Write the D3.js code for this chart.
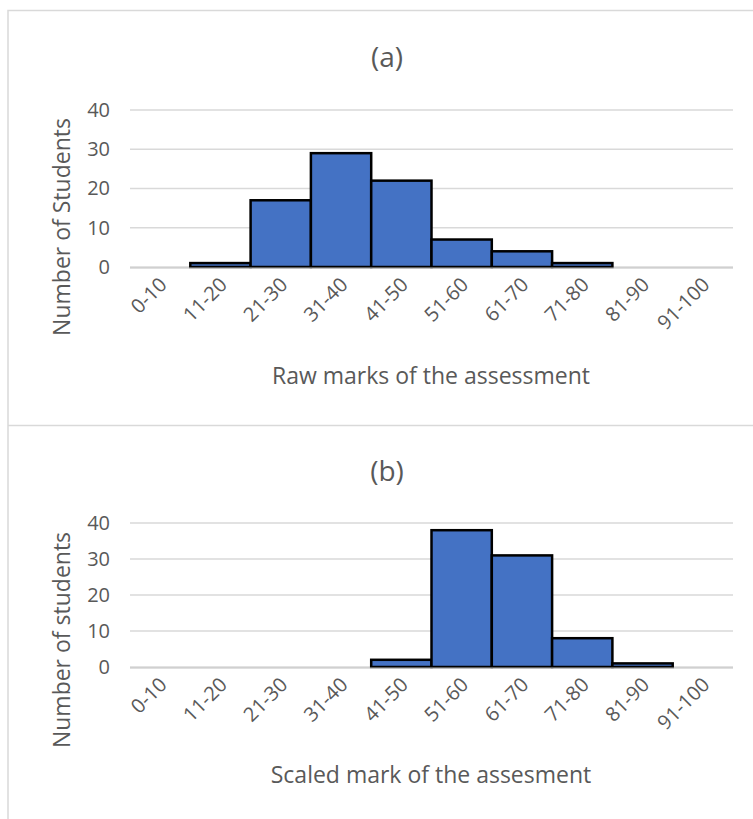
<!DOCTYPE html>
<html>
<head>
  <meta charset="utf-8">
  <title>Histograms of marks</title>
  <script src="https://d3js.org/d3.v7.min.js"></script>
  <style>
    body { margin: 0; background: #fff; font-family: "Open Sans", "Noto Sans", sans-serif; }
    text { fill: #595959; }
  </style>
</head>
<body>
<div id="chart"></div>
<script>
const categories = ["0-10", "11-20", "21-30", "31-40", "41-50", "51-60", "61-70", "71-80", "81-90", "91-100"];
const rawCounts = [0, 1, 17, 29, 22, 7, 4, 1, 0, 0];
const scaledCounts = [0, 0, 0, 0, 2, 38, 31, 8, 1, 0];
const yTicks = [0, 10, 20, 30, 40];

const width = 753, height = 819;

const svg = d3.select("#chart").append("svg")
  .attr("width", width)
  .attr("height", height);

// chart area frames
svg.append("path")
  .attr("d", "M8,819 V10.5 H753 M8,425.5 H753")
  .attr("fill", "none")
  .attr("stroke", "#d9d9d9")
  .attr("stroke-width", 1.5);

const x = d3.scaleBand().domain(categories).range([130, 733]).padding(0);

function panel(opts) {
  const y = d3.scaleLinear().domain([0, 40]).range([opts.y0, opts.y40]);
  const g = svg.append("g");

  g.append("text")
    .attr("x", 387).attr("y", opts.titleY)
    .attr("text-anchor", "middle")
    .style("font-size", "28px")
    .text(opts.title);

  // gridlines
  g.selectAll("line.grid")
    .data(yTicks)
    .join("line")
      .attr("class", "grid")
      .attr("x1", 130).attr("x2", 733)
      .attr("y1", d => y(d)).attr("y2", d => y(d))
      .attr("stroke", "#d9d9d9")
      .attr("stroke-width", 1.5);

  const yAxis = g.append("g")
    .attr("transform", "translate(130,0)")
    .call(d3.axisLeft(y).tickValues(yTicks).tickSize(0).tickPadding(20));
  yAxis.select(".domain").remove();
  yAxis.selectAll("text")
    .style("font-size", "20px")
    .style("font-family", "'Open Sans', sans-serif")
    .attr("fill", "#595959");

  const data = categories.map((c, i) => ({ c, v: opts.values[i] })).filter(d => d.v > 0);
  g.selectAll("rect.bar")
    .data(data)
    .join("rect")
      .attr("class", "bar")
      .attr("x", d => x(d.c))
      .attr("y", d => y(d.v))
      .attr("width", x.bandwidth())
      .attr("height", d => y(0) - y(d.v))
      .attr("fill", "#4472c4")
      .attr("stroke", "#000")
      .attr("stroke-width", 2.5);

  // baseline
  g.append("line")
    .attr("x1", 130).attr("x2", 733)
    .attr("y1", y(0) + 1).attr("y2", y(0) + 1)
    .attr("stroke", "#bfbfbf").attr("stroke-width", 1);

  g.selectAll("text.xlab")
    .data(categories)
    .join("text")
      .attr("class", "xlab")
      .attr("text-anchor", "end")
      .attr("transform", d => `translate(${x(d) + x.bandwidth() / 2 + 8},${y(0) + 19}) rotate(-45)`)
      .style("font-size", "20px")
      .text(d => d);

  g.append("text")
    .attr("x", 431).attr("y", opts.xTitleY)
    .attr("text-anchor", "middle")
    .style("font-size", "23px")
    .text(opts.xTitle);

  g.append("text")
    .attr("transform", `translate(70,${opts.yTitleC}) rotate(-90)`)
    .attr("text-anchor", "middle")
    .style("font-size", "23px")
    .text(opts.yTitle);
}

panel({
  title: "(a)", titleY: 67, values: rawCounts,
  y0: 267, y40: 110,
  xTitle: "Raw marks of the assessment", xTitleY: 384,
  yTitle: "Number of Students", yTitleC: 227
});

panel({
  title: "(b)", titleY: 481, values: scaledCounts,
  y0: 667, y40: 523,
  xTitle: "Scaled mark of the assesment", xTitleY: 783,
  yTitle: "Number of students", yTitleC: 640
});
</script>
</body>
</html>
